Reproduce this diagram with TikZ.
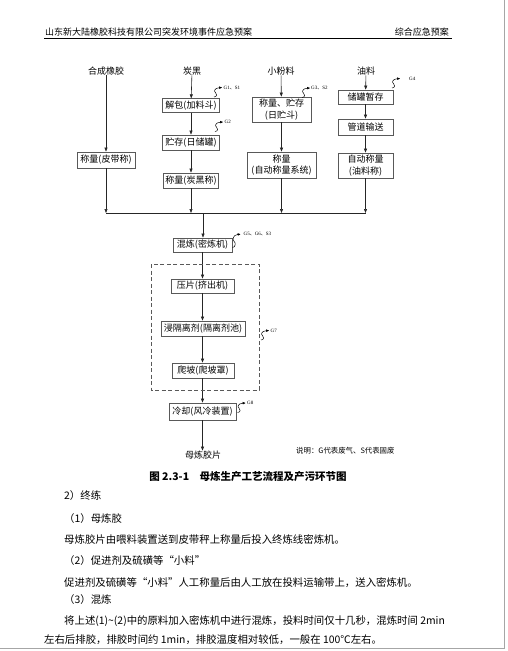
\documentclass[tikz,border=0pt]{standalone}
\usepackage{fontspec}
\setmainfont{Noto Sans CJK SC}
\newfontfamily\serifG{Liberation Serif}
\newfontfamily\cjkf{Noto Sans CJK SC}
\newcommand{\dunhao}{{\cjkf 、}}
\usetikzlibrary{arrows.meta}
\begin{document}
\begin{tikzpicture}[x=1pt,y=-1pt,
  box/.style={draw=black!65, line width=0.7pt, fill=white, font=\fontsize{9}{11.5}\selectfont, inner sep=1pt, align=center},
  lbl/.style={font=\fontsize{9}{11}\selectfont, inner sep=0pt},
  arr/.style={-{Triangle[length=4pt,width=3pt]}, line width=0.6pt, draw=black!85},
  ln/.style={line width=0.6pt, draw=black!85},
  gl/.style={font=\serifG\fontsize{5}{6}\selectfont, anchor=west, inner sep=0pt},
  body/.style={font=\fontsize{10.4}{12}\selectfont, anchor=west, inner sep=0pt},
  squig/.pic={\draw[line width=0.5pt,-{Triangle[length=2.8pt,width=2.4pt]}] (0,0) .. controls (3,0) and (3.5,-3.5) .. (1.5,-4.5) .. controls (-0.5,-5.5) and (0.5,-9) .. (8,-9.5);}
]
\useasboundingbox (0,0) rectangle (507,651);
\fill[white] (0,0) rectangle (507,651);
% page border
\draw[black!35, line width=0.8pt] (504,0) -- (504,648) -- (0,648);

% header
\node[anchor=west, inner sep=0pt, font=\fontsize{9}{11}\selectfont] (hl) at (45,32) {山东新大陆橡胶科技有限公司突发环境事件应急预案};
\node[anchor=east, inner sep=0pt, font=\fontsize{9}{11}\selectfont] (hr) at (449,32) {综合应急预案};
\draw[line width=0.9pt] (44,38.5) -- (452,38.5);

% top labels
\node[lbl] (t1) at (106,71) {合成橡胶};
\node[lbl] (t2) at (192,71) {炭黑};
\node[lbl] (t3) at (281,71) {小粉料};
\node[lbl] (t4) at (366,71) {油料};

% column 1
\node[box, minimum width=58pt, minimum height=16pt] (b1) at (106,160) {称量(皮带称)};
% column 2
\node[box, minimum width=57pt, minimum height=13.5pt] (c1) at (191,105.5) {解包(加料斗)};
\node[box, minimum width=57pt, minimum height=15pt] (c2) at (191,142.5) {贮存(日储罐)};
\node[box, minimum width=55pt, minimum height=15pt] (c3) at (191,180.5) {称量(炭黑称)};
% column 3
\node[box, minimum width=59pt, minimum height=25pt] (d1) at (281.5,109.5) {称量、贮存\\(日贮斗)};
\node[box, minimum width=69pt, minimum height=26pt] (d2) at (281.5,165) {称量\\(自动称量系统)};
% column 4
\node[box, minimum width=55pt, minimum height=14pt] (e1) at (365.5,97) {储罐暂存};
\node[box, minimum width=55pt, minimum height=16pt] (e2) at (365.5,127) {管道输送};
\node[box, minimum width=55pt, minimum height=25pt] (e3) at (365.5,165.5) {自动称量\\(油料称)};

% junction
\coordinate (j1) at (106,213);
\coordinate (j2) at (191,213);
\coordinate (j3) at (281.5,213);
\coordinate (j4) at (365.5,213);
\coordinate (jm) at (203,213);

% main column
\node[box, minimum width=59pt, minimum height=14pt] (m1) at (202.5,245) {混炼(密炼机)};
\node[box, minimum width=63pt, minimum height=14pt] (p1) at (202.5,286) {压片(挤出机)};
\node[box, minimum width=84pt, minimum height=15pt] (p2) at (203,328.5) {浸隔离剂(隔离剂池)};
\node[box, minimum width=62pt, minimum height=15pt] (p3) at (203,370.5) {爬坡(爬坡罩)};
\node[box, minimum width=67pt, minimum height=17pt] (p4) at (202.5,411.5) {冷却(风冷装置)};
\node[lbl] (out) at (203,455) {母炼胶片};

% connectors
\draw[arr] (t1) -- (b1);
\draw[arr] (t2) -- (c1);
\draw[arr] (c1) -- (c2);
\draw[arr] (c2) -- (c3);
\draw[arr] (t3) -- (d1);
\draw[arr] (d1) -- (d2);
\draw[arr] (t4) -- (e1);
\draw[arr] (e1) -- (e2);
\draw[arr] (e2) -- (e3);
\draw[arr] (b1) -- (j1);
\draw[arr] (c3) -- (j2);
\draw[arr] (d2) -- (j3);
\draw[arr] (e3) -- (j4);
\draw[ln] (j1) -- (j4);
\draw[arr] (jm) -- (m1.north -| jm);
\draw[arr] (m1) -- (p1);
\draw[arr] (p1) -- (p2.north -| p1);
\draw[arr] (p2.south -| p1) -- (p3.north -| p1);
\draw[arr] (p3.south -| p1) -- (p4.north -| p1);
\draw[arr] (p4.south -| p1) -- (out.north -| p1);

% dashed frame
\draw[black!65, line width=0.7pt, dash pattern=on 4pt off 2.5pt] (151,264) rectangle (259,390);

% emission squiggles
\pic at (214,97) {squig};
\node[gl] (g1) at (223.5,87.5) {G1\dunhao S1};
\pic at (215,131.5) {squig};
\node[gl] (g2) at (224.5,122) {G2};
\pic at (302,97.5) {squig};
\node[gl] (g3) at (311,88) {G3\dunhao S2};
\pic at (392,88) {squig};
\node[gl] (g4) at (409,78.5) {G4};
\pic[yscale=1.4] at (232.5,247.5) {squig};
\node[gl] (g5) at (243.5,234) {G5\dunhao G6\dunhao S3};
\pic at (261,340) {squig};
\node[gl] (g7) at (270.5,330.5) {G7};
\pic at (237.5,412.5) {squig};
\node[gl] (g8) at (247,403) {G8};

\node[anchor=west, inner sep=0pt, font=\fontsize{7.4}{9}\selectfont] (note) at (296,451) {说明：G代表废气、S代表固废};

% caption
\node[inner sep=0pt, font=\bfseries\fontsize{10.5}{12}\selectfont] (cap) at (248,477) {图 2.3-1\quad 母炼生产工艺流程及产污环节图};

% body text
\node[body] (l1) at (64,496) {2）终练};
\node[body] (l2) at (64,519) {（1）母炼胶};
\node[body] (l3) at (64,540) {母炼胶片由喂料装置送到皮带秤上称量后投入终炼线密炼机。};
\node[body] (l4) at (64,561) {（2）促进剂及硫磺等“小料”};
\node[body] (l5) at (64,583) {促进剂及硫磺等“小料”人工称量后由人工放在投料运输带上，送入密炼机。};
\node[body] (l6) at (64,600) {（3）混炼};
\node[body] (l7) at (64,621) {将上述(1)\textasciitilde(2)中的原料加入密炼机中进行混炼，投料时间仅十几秒，混炼时间 2min};
\node[body] (l8) at (44,640) {左右后排胶，排胶时间约 1min，排胶温度相对较低，一般在 100℃左右。};
\end{tikzpicture}
\end{document}
